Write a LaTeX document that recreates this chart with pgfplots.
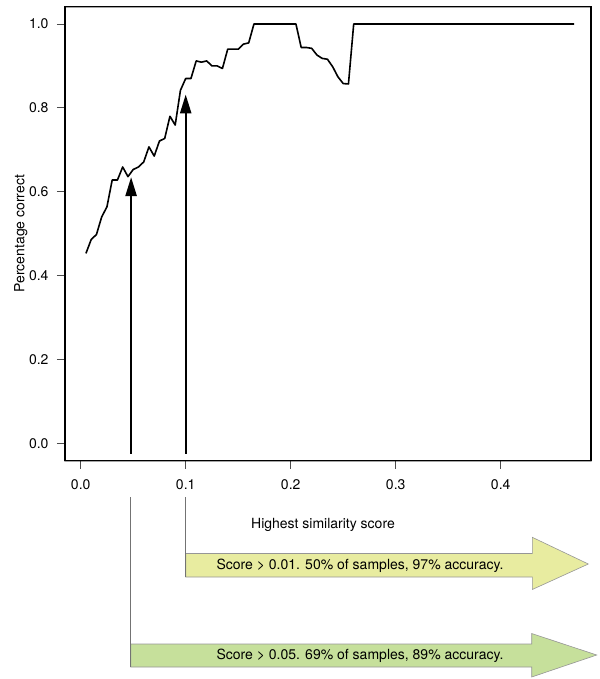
\documentclass[border=0pt]{standalone}
\usepackage{pgfplots}
\pgfplotsset{compat=1.18}
\usepackage{fontspec}
\setmainfont{TeX Gyre Heros}
\usetikzlibrary{arrows.meta}
\newcommand\f{\fontsize{14bp}{17bp}\selectfont}
\definecolor{arryellow}{RGB}{232,236,160}
\definecolor{arrgreen}{RGB}{198,224,155}
\definecolor{arrborder}{RGB}{150,150,150}
\begin{document}
\begin{tikzpicture}
\path[use as bounding box] (0,0) rectangle (600bp,-679bp);
\begin{axis}[
  at={(65bp,-460.7bp)}, anchor=south west,
  scale only axis, width=526bp, height=454bp,
  xmin=-0.01495, xmax=0.486, ymin=-0.0415, ymax=1.0413,
  axis lines=box,
  axis line style={line width=1.5bp, draw=black},
  xtick={0,0.1,0.2,0.3,0.4}, ytick={0,0.2,0.4,0.6,0.8,1},
  xtick pos=bottom, ytick pos=left, tick align=outside,
  major tick length=8bp,
  tick style={line width=0.8bp, black!70},
  xticklabel style={font=\f, yshift=-7bp, /pgf/number format/.cd, fixed, fixed zerofill, precision=1, assume math mode=true},
  yticklabel style={font=\f, xshift=-5bp, /pgf/number format/.cd, fixed, fixed zerofill, precision=1, assume math mode=true},
  xlabel={Highest similarity score},
  ylabel={Percentage correct},
  label style={font=\f},
  xlabel style={at={(axis description cs:0.5,0)}, anchor=center, yshift=-64.6bp, xshift=-5bp},
  ylabel style={at={(axis description cs:0,0.5)}, anchor=center, yshift=44.3bp},
  clip=false,
]
\addplot[black, line width=1.6bp, line join=round] coordinates {
(0.005,0.453) (0.010,0.486) (0.015,0.498) (0.020,0.540) (0.025,0.564)
(0.030,0.628) (0.035,0.628) (0.040,0.659) (0.045,0.636) (0.050,0.653)
(0.055,0.659) (0.060,0.671) (0.065,0.707) (0.070,0.685) (0.075,0.721)
(0.080,0.727) (0.085,0.780) (0.090,0.759) (0.095,0.842) (0.100,0.870)
(0.105,0.870) (0.110,0.912) (0.115,0.909) (0.120,0.912) (0.125,0.900)
(0.130,0.900) (0.135,0.894) (0.140,0.940) (0.145,0.940) (0.150,0.940)
(0.155,0.952) (0.160,0.955) (0.165,1.0) (0.205,1.0) (0.210,0.944)
(0.215,0.944) (0.220,0.942) (0.225,0.926) (0.230,0.918) (0.235,0.916)
(0.240,0.898) (0.245,0.874) (0.250,0.858) (0.255,0.857) (0.260,1.0)
(0.470,1.0)
};
\addplot[black, line width=2.4bp, -{Triangle[length=19bp,width=11bp]}] coordinates {(0.048,-0.025) (0.048,0.635)};
\addplot[black, line width=2.4bp, -{Triangle[length=19bp,width=11bp]}] coordinates {(0.100,-0.025) (0.100,0.832)};
\end{axis}
% frame of the plot region, as a filled ring
\fill[black, even odd rule] (64.3bp,-6.0bp) rectangle (591.7bp,-461.4bp) (65.7bp,-7.4bp) rectangle (590.3bp,-460.0bp);
% annotation arrows below the axis
\draw[arrborder, line width=0.6bp, fill=arryellow]
  (185.7bp,-553.5bp) -- (532.3bp,-553.5bp) -- (532.3bp,-537.3bp) -- (588.3bp,-564bp)
  -- (532.3bp,-589.5bp) -- (532.3bp,-577bp) -- (185.7bp,-577bp) -- cycle;
\draw[arrborder, line width=0.6bp, fill=arrgreen]
  (130.7bp,-644bp) -- (531.7bp,-644bp) -- (531.7bp,-633.5bp) -- (596.7bp,-655bp)
  -- (531.7bp,-677bp) -- (531.7bp,-667bp) -- (130.7bp,-667bp) -- cycle;
\draw[black!55, line width=1.1bp] (185.7bp,-497bp) -- (185.7bp,-577bp);
\draw[black!55, line width=1.1bp] (130.7bp,-497bp) -- (130.7bp,-667bp);
\node[font=\f, anchor=center, inner sep=0pt] at (360bp,-565.5bp) {Score > 0.01. 50\% of samples, 97\% accuracy.};
\node[font=\f, anchor=center, inner sep=0pt] at (360bp,-656bp) {Score > 0.05. 69\% of samples, 89\% accuracy.};
\end{tikzpicture}
\end{document}
